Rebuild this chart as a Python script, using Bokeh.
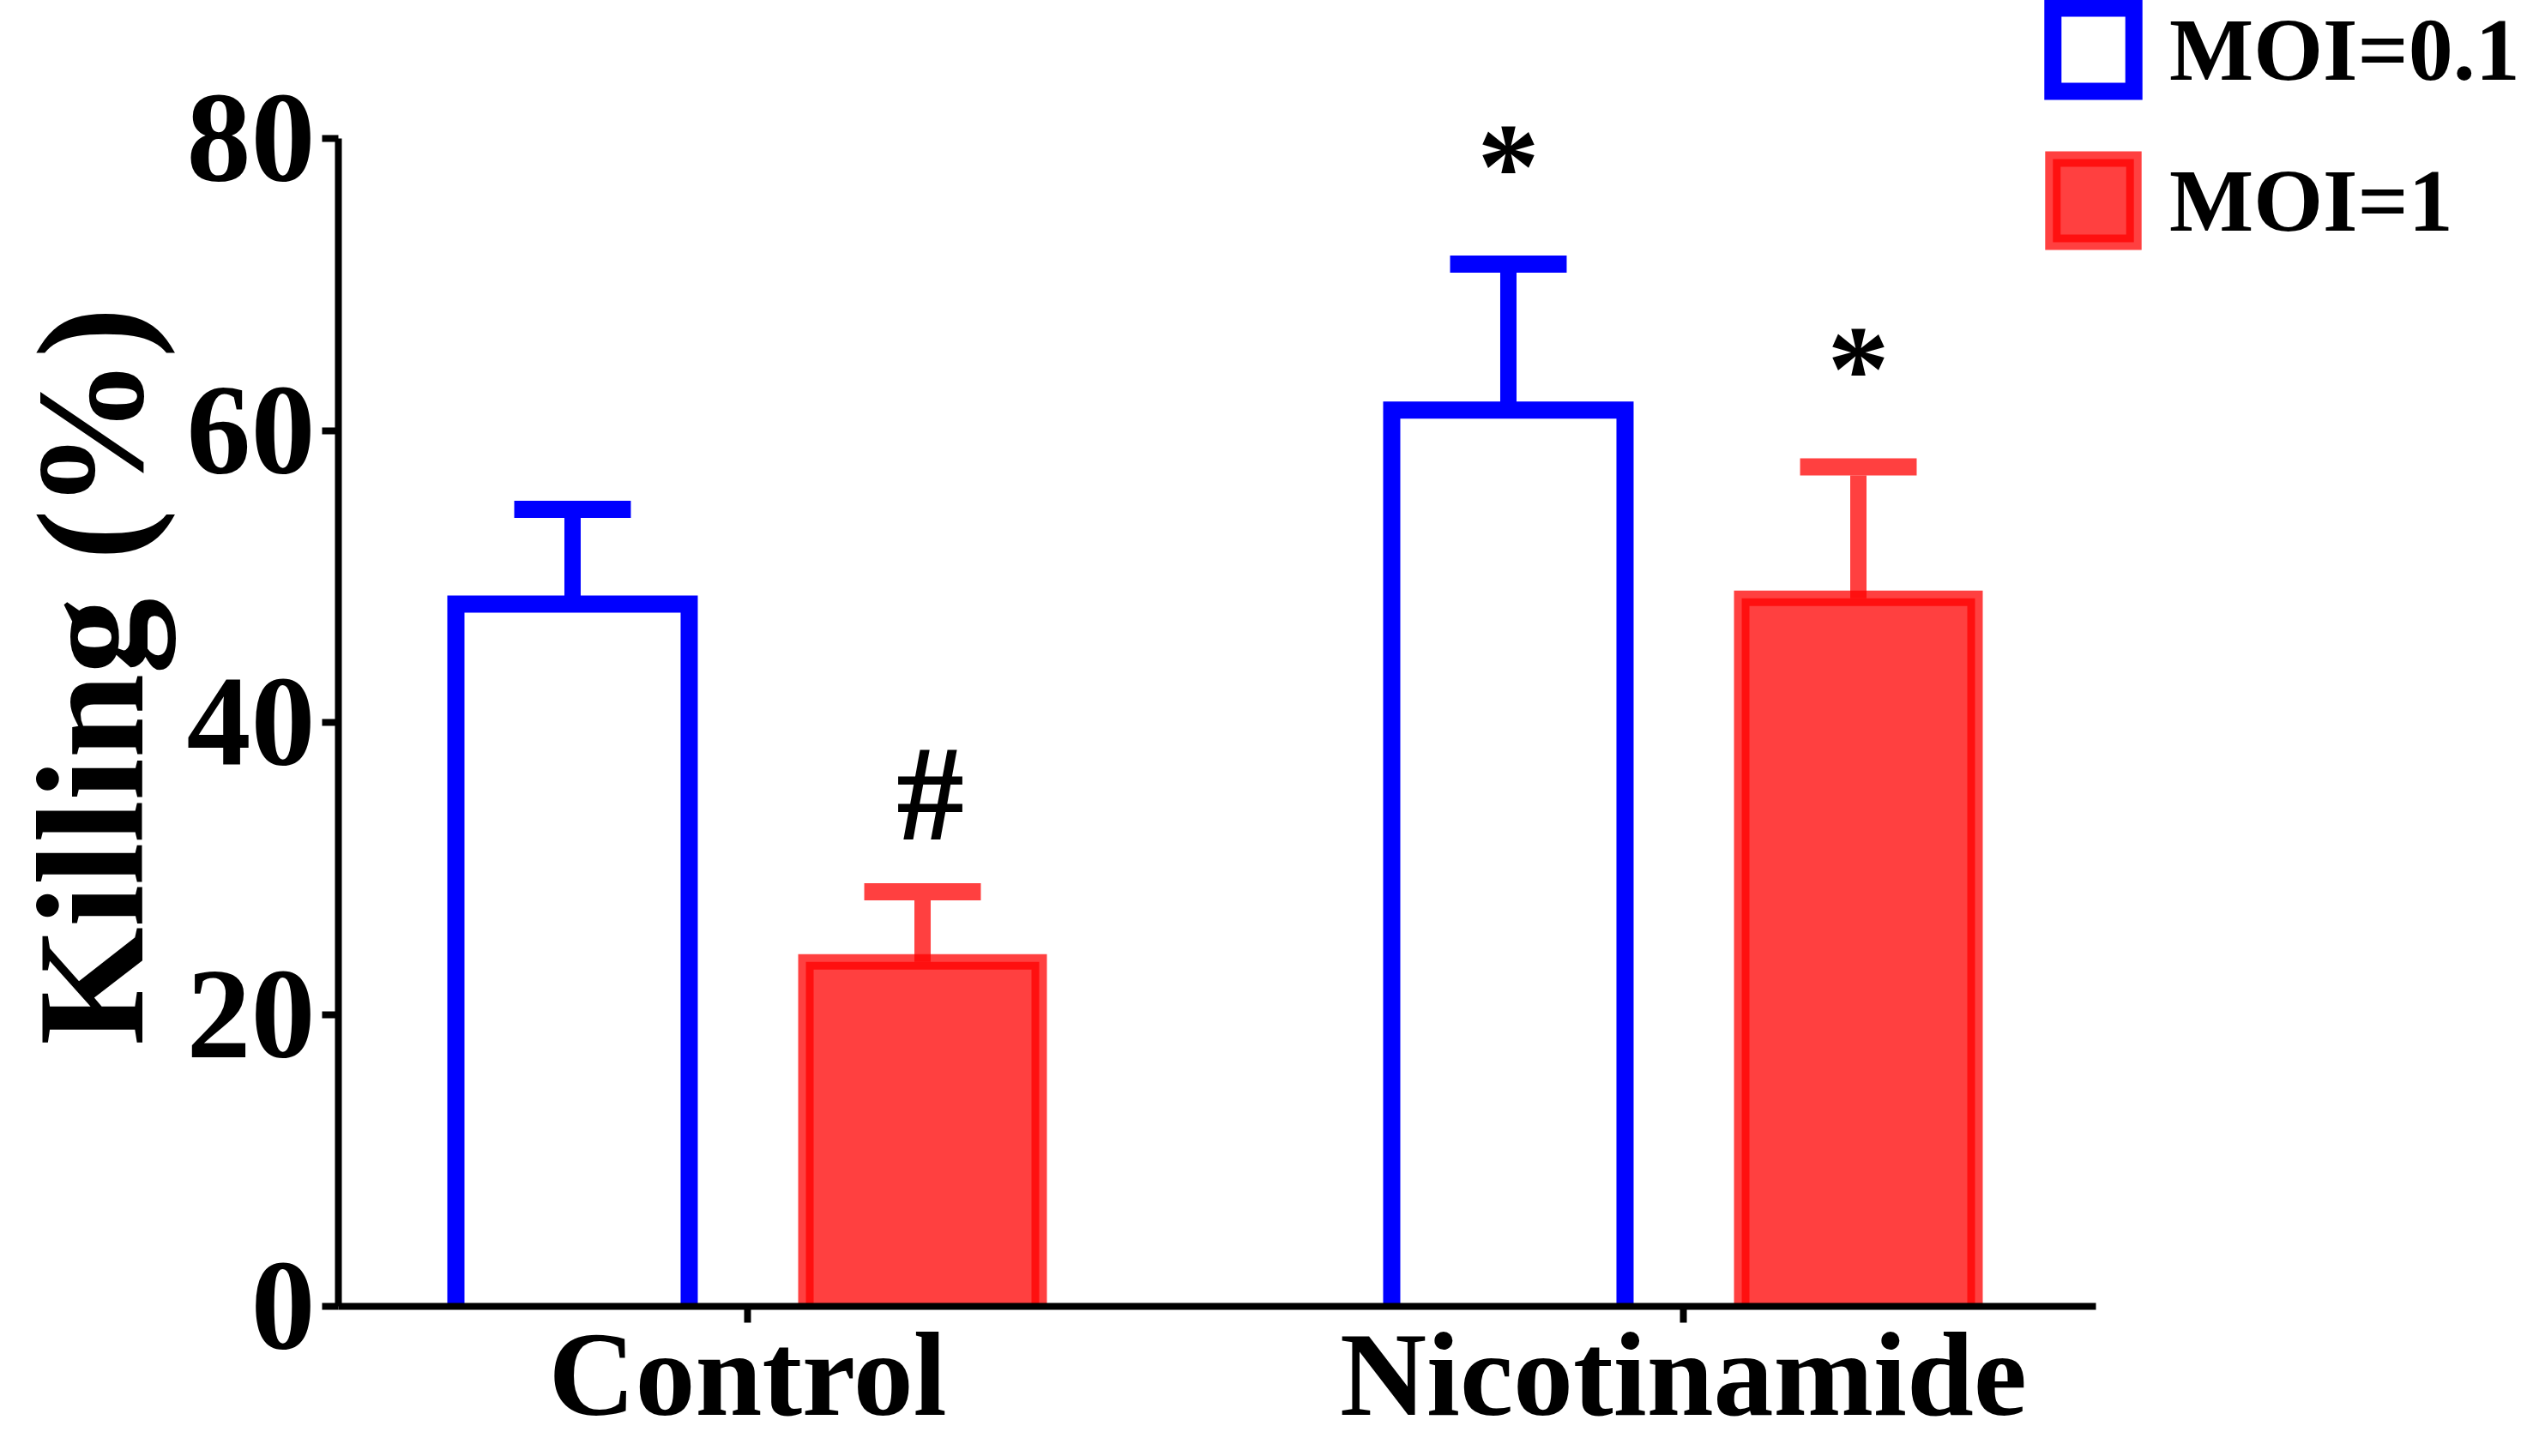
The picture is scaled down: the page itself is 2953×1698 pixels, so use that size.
import math
import numpy as np
from bokeh.plotting import figure
from bokeh.models import FixedTicker, Label, Legend, LegendItem, Range1d
from bokeh.embed import file_html
from bokeh.resources import INLINE

# ---------------- data ----------------
groups = ["Control", "Nicotinamide"]
series = ["MOI=0.1", "MOI=1"]
moi01_mean = [48.1, 61.4]
moi01_sd = [6.5, 10.0]
moi1_mean = [23.6, 48.5]
moi1_sd = [4.8, 9.0]
moi01_marks = ["", "*"]
moi1_marks = ["#", "*"]
y_ticks = [0, 20, 40, 60, 80]
y_title = "Killing (%)"

# ---------------- layout constants ----------------
W, H = 2937, 1682
AX_L, AX_R = 394, 2443          # x extent of the axes (px)
Y0_PX = 1523                    # px of y = 0
PX_Y = (Y0_PX - 161) / 80.0     # px per y unit
CTRL_PX = 871                   # px of first category
PX_X = 1091.0                   # px per x unit

def xv(px):
    return 1 + (px - CTRL_PX) / PX_X

def yv(px):
    return (Y0_PX - px) / PX_Y

OFF = 0.187
BW = 0.2493
CAP = 0.0623
FONT = "Liberation Serif"
BLUE = "#0000FF"
RED = "#FF0000"
MARK_STYLE = {"*": ("145px", 0.0), "#": ("158px", 9 / PX_X)}

p = figure(width=W, height=H, output_backend="svg", toolbar_location=None,
           x_range=Range1d(xv(0), xv(W)), y_range=Range1d(yv(H), yv(0)),
           min_border_left=0, min_border_right=0,
           min_border_top=0, min_border_bottom=0)
p.outline_line_color = None
p.xgrid.visible = False
p.ygrid.visible = False
p.background_fill_color = "white"
p.border_fill_color = "white"

xs = [i + 1 for i in range(len(groups))]

def bars(means, sds, offset, color, alpha, lw, fill, fill_alpha):
    cx = [x + offset for x in xs]
    lefts = [c - BW / 2 for c in cx]
    rights = [c + BW / 2 for c in cx]
    if fill is not None:
        p.quad(left=lefts, right=rights, bottom=[0] * len(cx), top=means,
               fill_color=fill, fill_alpha=fill_alpha, line_color=None)
    p.multi_line(xs=[[l, l, r, r] for l, r in zip(lefts, rights)],
                 ys=[[0, m, m, 0] for m in means],
                 line_color=color, line_alpha=alpha, line_width=lw,
                 line_join="miter", line_cap="butt")
    tops = [m + s for m, s in zip(means, sds)]
    p.segment(x0=cx, y0=means, x1=cx, y1=[t - 10 / PX_Y for t in tops],
              line_color=color, line_alpha=alpha, line_width=19, line_cap="butt")
    p.segment(x0=[c - CAP for c in cx], y0=tops, x1=[c + CAP for c in cx], y1=tops,
              line_color=color, line_alpha=alpha, line_width=20, line_cap="butt")
    # legend swatch renderer (style only, nothing drawn in the plot)
    nan = [np.nan]
    r = p.quad(left=nan, right=nan, bottom=nan, top=nan,
               fill_color=fill if fill is not None else "white",
               fill_alpha=fill_alpha if fill is not None else 1.0,
               line_color=color, line_alpha=alpha, line_width=lw, line_join="miter")
    return r, cx, tops

r_blue, cx_b, tops_b = bars(moi01_mean, moi01_sd, -OFF, BLUE, 1.0, 20, None, 1.0)
r_red, cx_r, tops_r = bars(moi1_mean, moi1_sd, OFF, RED, 0.75, 18, RED, 0.75)

for cx, tops, marks in ((cx_b, tops_b, moi01_marks), (cx_r, tops_r, moi1_marks)):
    for c, t, m in zip(cx, tops, marks):
        if m:
            size, dx = MARK_STYLE[m]
            p.add_layout(Label(x=c + dx, y=t + 6.7, text=m, text_align="center",
                               text_baseline="alphabetic", text_font=FONT,
                               text_font_style="bold", text_font_size=size,
                               text_color="black"))

# y axis title
p.add_layout(Label(x=xv(105), y=yv(788), text=y_title,
                   angle=math.pi / 2, text_align="center", text_baseline="alphabetic",
                   text_font=FONT, text_font_style="bold", text_font_size="177px",
                   text_color="black"))

# axes
for ax in (p.xaxis[0], p.yaxis[0]):
    ax.axis_line_width = 8
    ax.axis_line_color = "black"
    ax.major_tick_line_width = 8
    ax.major_tick_line_color = "black"
    ax.major_tick_out = 19
    ax.major_tick_in = 0
    ax.minor_tick_line_color = None
    ax.major_label_text_font = FONT
    ax.major_label_text_font_style = "bold"
    ax.major_label_text_color = "black"

p.yaxis.ticker = FixedTicker(ticks=y_ticks)
p.yaxis.fixed_location = xv(AX_L)
p.yaxis.bounds = (0, 80)
p.yaxis.major_label_text_font_size = "150px"
p.yaxis.major_label_standoff = 8
p.xaxis.ticker = FixedTicker(ticks=xs)
p.xaxis.fixed_location = 0
p.xaxis.bounds = (xv(AX_L), xv(AX_R))
p.xaxis.major_label_overrides = {x: g for x, g in zip(xs, groups)}
p.xaxis.major_label_text_font_size = "140px"
p.xaxis.major_label_standoff = -18

legend = Legend(items=[LegendItem(label=series[0], renderers=[r_blue]),
                       LegendItem(label=series[1], renderers=[r_red])],
                location=(2381, 1388),
                orientation="vertical", glyph_width=118, glyph_height=121,
                label_standoff=30, spacing=55, padding=0, margin=0,
                border_line_color=None, background_fill_alpha=0,
                label_text_font=FONT, label_text_font_style="bold",
                label_text_font_size="104px", label_text_color="black")
p.add_layout(legend, "center")

open("out.html", "w").write(file_html(p, INLINE))
